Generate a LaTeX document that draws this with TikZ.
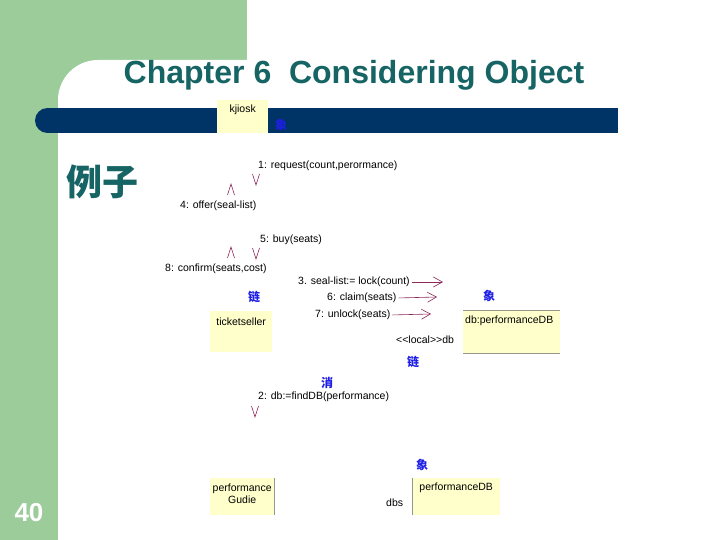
\documentclass[tikz,border=0pt]{standalone}
\usepackage{fontspec}
\setmainfont{Liberation Sans}
\newfontfamily\cjk{Noto Sans CJK SC}
\usetikzlibrary{arrows.meta, positioning}
\definecolor{SlideGreen}{RGB}{155,204,153}
\definecolor{SlideNavy}{RGB}{0,51,102}
\definecolor{SlideTeal}{RGB}{22,100,100}
\definecolor{NoteYellow}{RGB}{255,255,204}
\definecolor{NoteEdge}{RGB}{150,150,140}
\definecolor{MsgRed}{RGB}{140,40,90}
\definecolor{MarkBlue}{RGB}{30,30,230}
\tikzset{
  obj/.style={rectangle, fill=NoteYellow, inner sep=0pt, anchor=north west},
  objtext/.style={font=\fontsize{10.5}{12}\selectfont, align=center, inner sep=0pt},
  msg/.style={font=\fontsize{10.5}{12}\selectfont, anchor=west, inner sep=0pt},
  blueword/.style={font=\cjk\fontsize{12}{13}\selectfont\bfseries, text=MarkBlue, inner sep=0pt},
  edge/.style={draw=NoteEdge, line width=0.8pt},
  msgline/.style={draw=MsgRed, line width=0.6pt, shorten <=2pt,
    -{Straight Barb[length=9pt,width=10pt]}},
  chev/.style={draw=MsgRed, line width=0.6pt},
  downv/.pic={\draw[chev] (-3.5,-11) -- (0,0) -- (3.5,-11);},
  upv/.pic={\draw[chev] (-3.5,11) -- (0,0) -- (3.5,11);}
}

\begin{document}
\begin{tikzpicture}[x=1pt, y=-1pt]
  \useasboundingbox (0,0) rectangle (720,540);
  \clip (0,0) rectangle (720,540);

  % slide background
  \fill[SlideGreen] (0,0) rectangle (247,100);
  \fill[SlideGreen] (0,0) rectangle (58,540);
  \fill[white, rounded corners=40] (58,60) rectangle (800,620);
  \fill[SlideNavy] (47,108) rectangle (618,133);
  \fill[SlideNavy] (47.5,120.5) circle (12.5);

  \node[font=\fontsize{32}{36}\selectfont\bfseries, text=SlideTeal] (title) at (354,75) {Chapter 6\ \ Considering Object};
  \node[font=\cjk\fontsize{36}{40}\selectfont\bfseries, text=SlideTeal] (example) at (102,182) {例子};
  \node[font=\fontsize{26}{28}\selectfont\bfseries, text=white] (page) at (29,513) {40};

  % objects
  \node[obj, minimum width=51, minimum height=33] (kiosk) at (217,100) {};
  \node[objtext, below=5pt of kiosk.north] (kiosktxt) {kjiosk};
  \node[obj, minimum width=62, minimum height=41] (seller) at (210,311) {};
  \node[objtext, below=7pt of seller.north] (sellertxt) {ticketseller};
  \node[obj, minimum width=97, minimum height=43] (db) at (463,310) {};
  \node[objtext, anchor=north west] (dbtxt) at (465,316) {db:performanceDB};
  \node[obj, minimum width=64, minimum height=37] (guide) at (210,478) {};
  \node[objtext, below=6pt of guide.north] (guidetxt) {performance\\Gudie};
  \node[obj, minimum width=88, minimum height=37] (perfdb) at (412,478) {};
  \node[objtext, below=5pt of perfdb.north] (perfdbtxt) {performanceDB};

  \draw[edge] (db.north west) -- (db.north east);
  \draw[edge] (db.south west) -- (db.south east);
  \draw[edge] (guide.north east) -- (guide.south east);
  \draw[edge] (perfdb.north west) -- (perfdb.south west);

  % messages
  \node[msg] (m1) at (258,166) {1: request(count,perormance)};
  \node[msg] (m4) at (180,206) {4: offer(seal-list)};
  \node[msg] (m5) at (260,240) {5: buy(seats)};
  \node[msg] (m8) at (165,269) {8: confirm(seats,cost)};
  \node[msg] (m3) at (298,282) {3. seal-list:= lock(count)};
  \node[msg] (m6) at (327,298) {6: claim(seats)};
  \node[msg] (m7) at (315,315) {7: unlock(seats)};
  \node[msg] (link) at (396,340) {{<}{<}local{>}{>}db};
  \node[msg] (m2) at (258,397) {2: db:=findDB(performance)};
  \node[msg] (dbs) at (386,503) {dbs};

  \pic (v1) at (256,185) {downv};
  \pic (v4) at (231,184) {upv};
  \pic (v5) at (256,259) {downv};
  \pic (v8) at (231,247) {upv};
  \pic (v2) at (255,417) {downv};

  \coordinate (e3) at (443,282);
  \coordinate (e6) at (437,297);
  \coordinate (e7) at (431,314);
  \draw[msgline] (m3.east) -- (e3);
  \draw[msgline] (m6.east) -- (e6);
  \draw[msgline] (m7.east) -- (e7);

  % small notes
  \node[blueword] (n1) at (281,125) {象};
  \node[blueword] (n2) at (254,297) {链};
  \node[blueword] (n3) at (489,296) {象};
  \node[blueword] (n4) at (413,362) {链};
  \node[blueword] (n5) at (327,383) {消};
  \node[blueword] (n6) at (422,465) {象};
\end{tikzpicture}
\end{document}
